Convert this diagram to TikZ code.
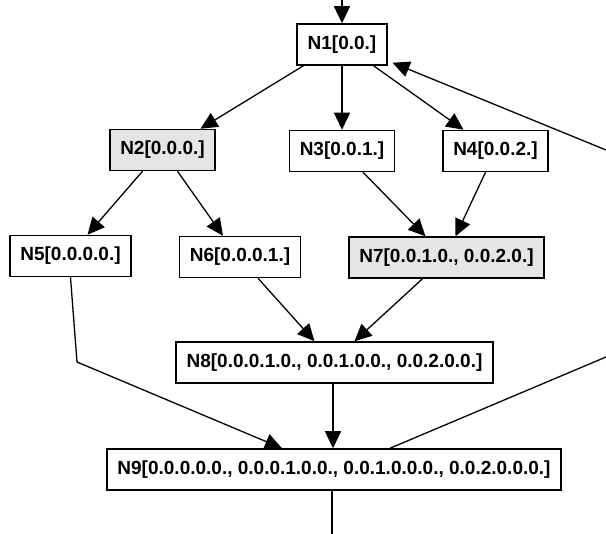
\documentclass[tikz,border=0pt]{standalone}
\usepackage{fontspec}
\setmainfont{Liberation Sans}
\usetikzlibrary{arrows.meta}

\begin{document}
\begin{tikzpicture}[x=1pt,y=-1pt,>={Triangle[length=17pt,width=16pt]},
    shaded/.style={fill=black!10}]

    \useasboundingbox (0,0) rectangle (606,534);

    \begin{scope}[every node/.style={rectangle,draw,line width=1.5pt,
        font=\fontsize{19}{22}\selectfont\bfseries,
        inner xsep=10.5pt,inner ysep=0pt,minimum height=41pt}]
        \node (1) at (342,44.5) {N1[0.0.]};
        \node[shaded] (2) at (162.5,150) {N2[0.0.0.]};
        \node (3) at (342,151) {N3[0.0.1.]};
        \node (4) at (495.5,151) {N4[0.0.2.]};
        \node (5) at (70.5,256) {N5[0.0.0.0.]};
        \node (6) at (240,257) {N6[0.0.0.1.]};
        \node[shaded] (7) at (446.5,257.5) {N7[0.0.1.0., 0.0.2.0.]};
        \node (8) at (334.5,362.5) {N8[0.0.0.1.0., 0.0.1.0.0., 0.0.2.0.0.]};
        \node (9) at (334,469.5) {N9[0.0.0.0.0., 0.0.0.1.0.0., 0.0.1.0.0.0., 0.0.2.0.0.0.]};
    \end{scope}

    % free ends
    \coordinate (in) at (342,0);
    \coordinate (out) at (332,534);
    \coordinate (bend) at (77,362);
    \coordinate (r1) at (606,357);
    \coordinate (r2) at (606,150);

    \begin{scope}[every edge/.style={draw,line width=1.3pt}]
        \path [->] (in) edge (1.north);
        \path [->] ([xshift=7pt]1.south west) edge ([xshift=38pt]2.north);
        \path [->] (1.south) edge (3.north);
        \path [->] ([xshift=-14pt]1.south east) edge ([xshift=-32pt]4.north);
        \path [->] ([xshift=-20pt]2.south) edge ([xshift=17pt]5.north);
        \path [->] ([xshift=15pt]2.south) edge ([xshift=-17pt]6.north);
        \path [->] ([xshift=21pt]3.south) edge ([xshift=-21pt]7.north);
        \path [->] ([xshift=-10pt]4.south) edge ([xshift=9pt]7.north);
        \path [->] ([xshift=18pt]6.south) edge ([xshift=-20pt]8.north);
        \path [->] ([xshift=-24pt]7.south) edge ([xshift=20pt]8.north);
        \path [->] ([xshift=-1.5pt]8.south) edge ([xshift=-1pt]9.north);
        \path [->] (r2) edge ([xshift=5pt,yshift=3pt]1.south east);
        \path ([xshift=-2pt]9.south) edge (out);
        \path ([xshift=56pt]9.north) edge (r1);
    \end{scope}

    \draw [->,line width=1.3pt] (5.south) -- (bend) -- ([xshift=-52pt]9.north);

\end{tikzpicture}
\end{document}
